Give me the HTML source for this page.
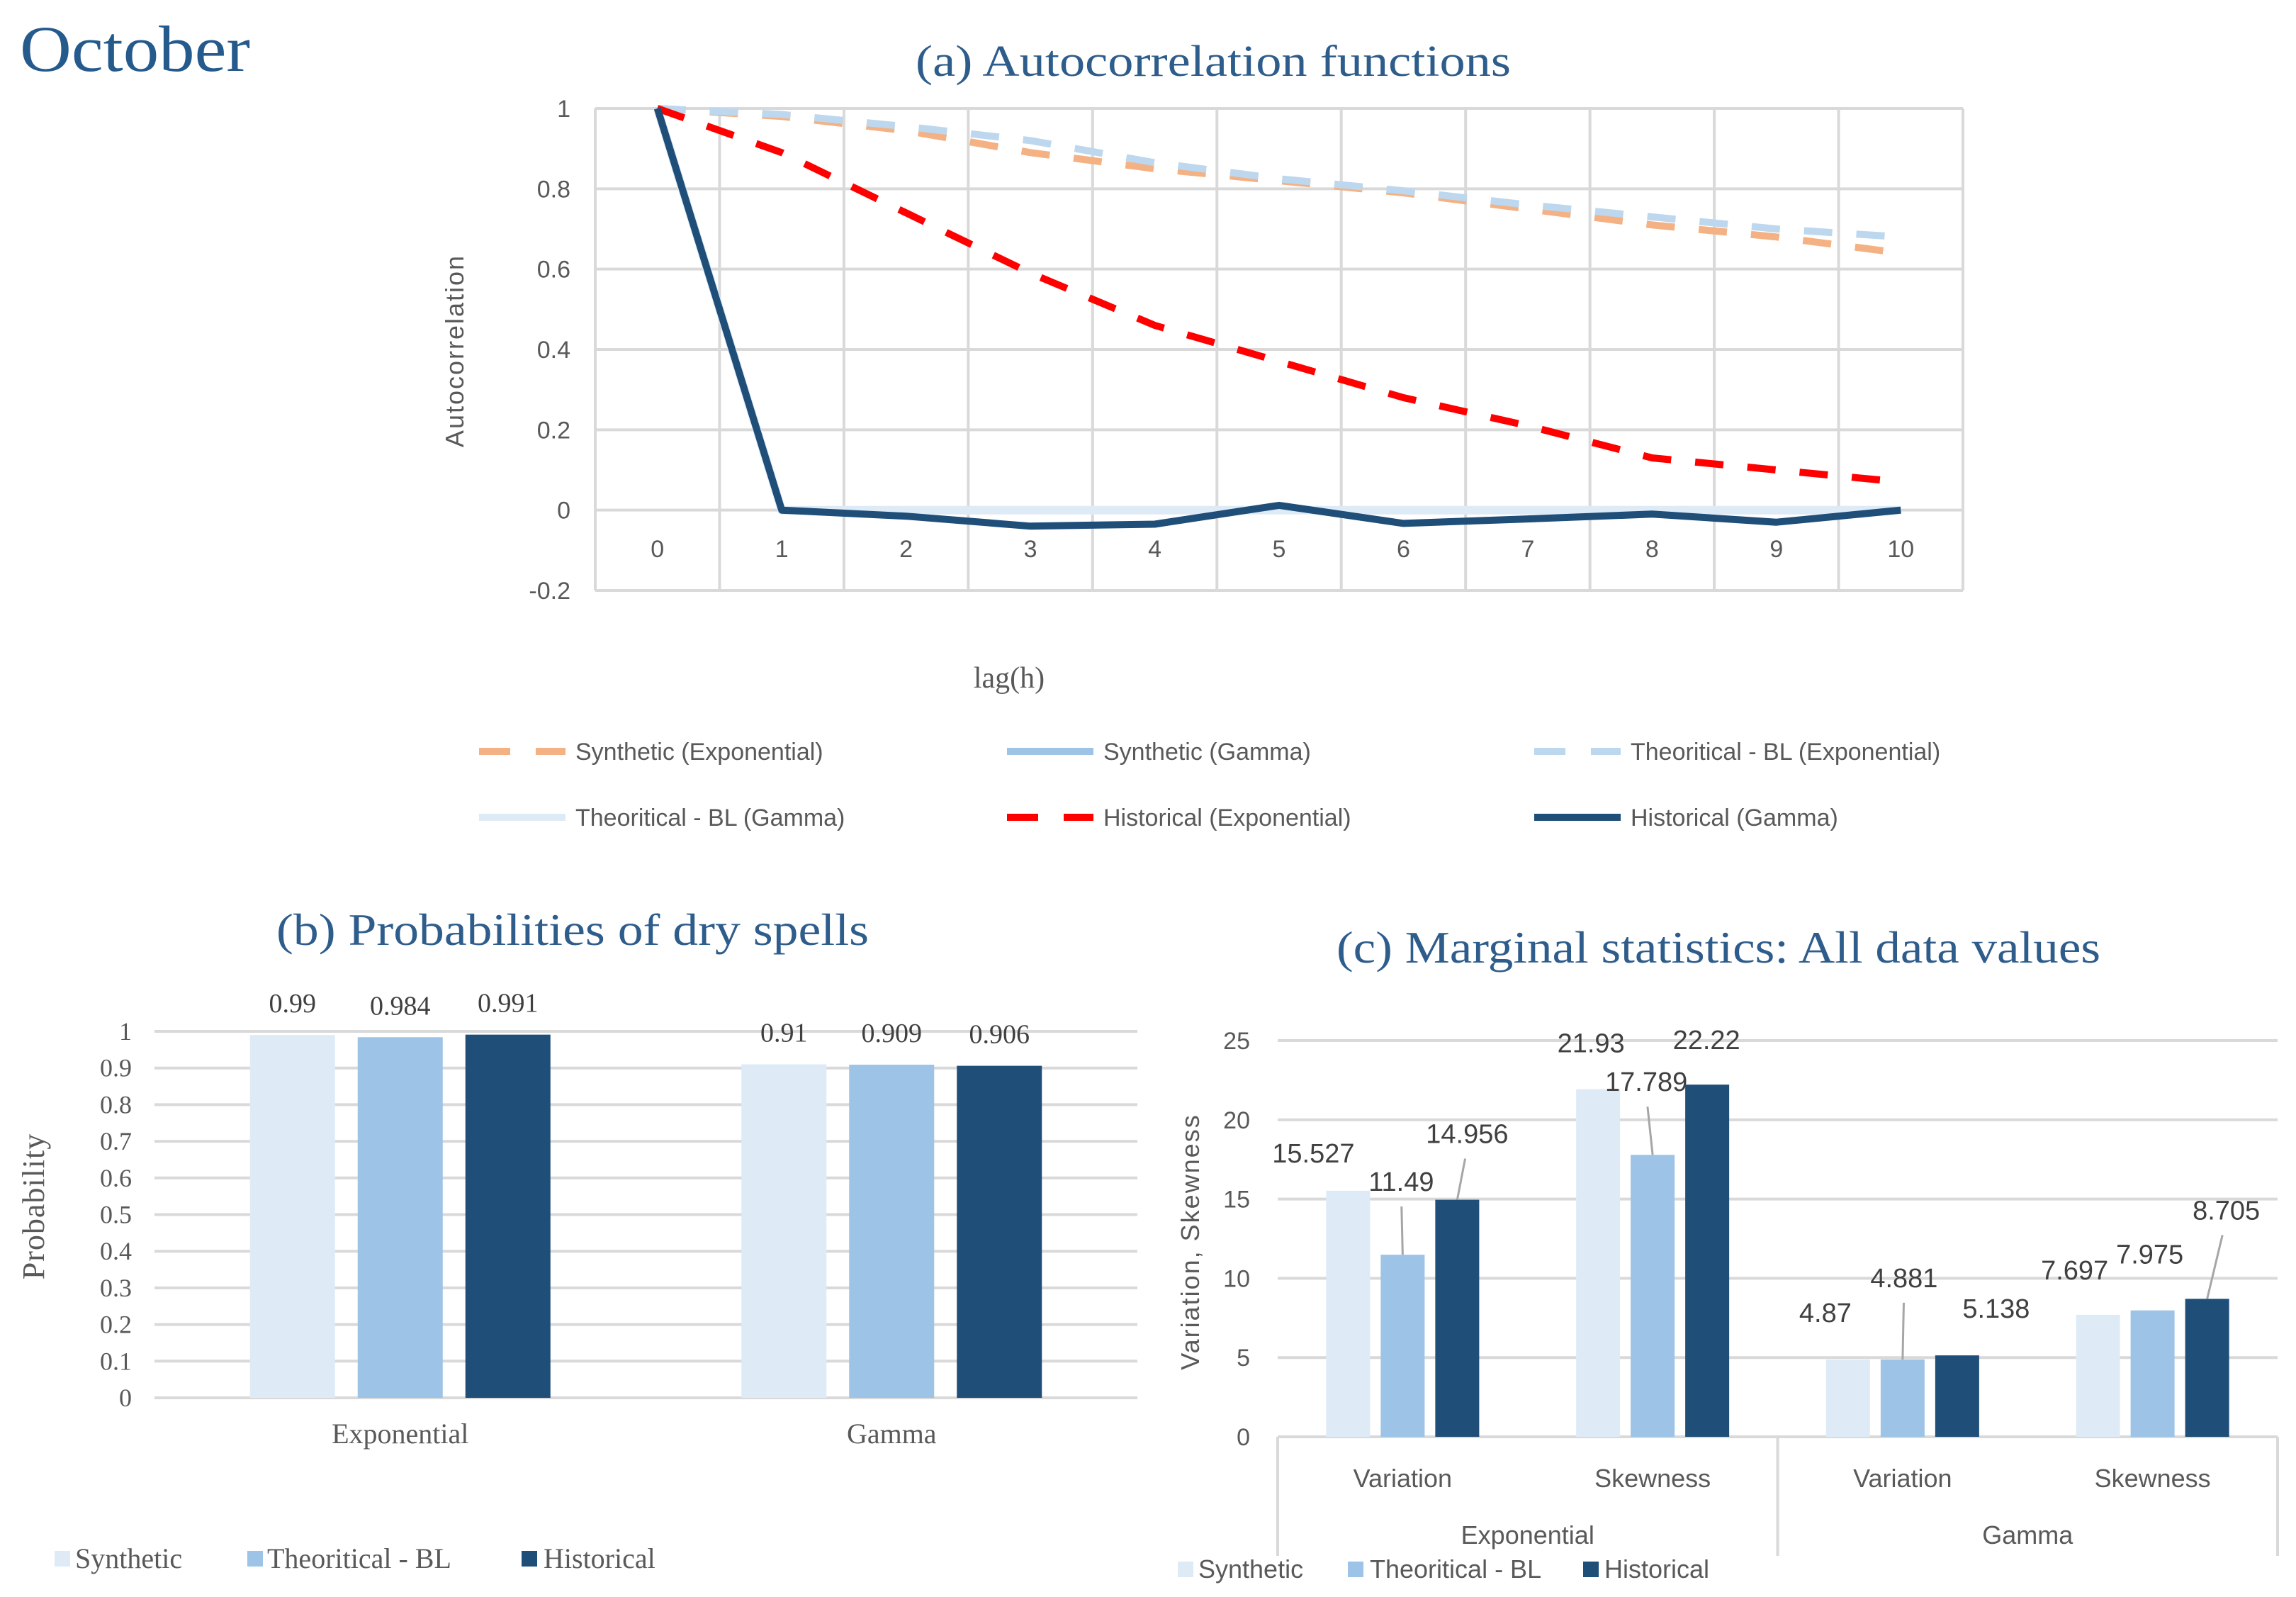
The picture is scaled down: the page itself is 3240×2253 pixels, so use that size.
<!DOCTYPE html>
<html><head><meta charset="utf-8"><style>
html,body{margin:0;padding:0;background:#fff;}
svg{display:block;}
.serif{font-family:"Liberation Serif",serif;}
.sans{font-family:"Liberation Sans",sans-serif;}
</style></head><body>
<svg id="fig" width="3240" height="2253" viewBox="0 0 3240 2253" xmlns="http://www.w3.org/2000/svg">
<rect width="3240" height="2253" fill="#fff"/>
<text class="serif" x="28" y="100" font-size="92" fill="#255a8c" textLength="325" lengthAdjust="spacingAndGlyphs">October</text>
<g id="ga"></g>
<g id="gb"></g>
<g id="gc"></g>
</svg>
<script>
// ---------- Chart (a) data ----------
const lags = [0,1,2,3,4,5,6,7,8,9,10];
const yTicksA = [1,0.8,0.6,0.4,0.2,0,-0.2];
const yTickLabelsA = ["1","0.8","0.6","0.4","0.2","0","-0.2"];
const synExp = [1,0.98,0.945,0.89,0.85,0.82,0.79,0.75,0.71,0.68,0.64];
const synGamma = [1,0,0,0,0,0,0,0,0,0,0];
const theoExp = [1,0.985,0.955,0.92,0.865,0.825,0.795,0.76,0.73,0.70,0.68];
const theoGamma = [1,0,0,0,0,0,0,0,0,0,0];
const histExp = [1,0.89,0.74,0.59,0.46,0.37,0.28,0.21,0.13,0.10,0.07];
const histGamma = [1,0,-0.015,-0.04,-0.035,0.012,-0.033,-0.022,-0.01,-0.03,0];
// ---------- Chart (b) data ----------
const catsB = ["Exponential","Gamma"];
const bSynthetic = [0.99,0.91];
const bTheoretical = [0.984,0.909];
const bHistorical = [0.991,0.906];
const yTicksB = [0,0.1,0.2,0.3,0.4,0.5,0.6,0.7,0.8,0.9,1];
const yTickLabelsB = ["0","0.1","0.2","0.3","0.4","0.5","0.6","0.7","0.8","0.9","1"];
// ---------- Chart (c) data ----------
const catsC = ["Variation","Skewness","Variation","Skewness"];
const groupsC = ["Exponential","Gamma"];
const cSynthetic = [15.527,21.93,4.87,7.697];
const cTheoretical = [11.49,17.789,4.881,7.975];
const cHistorical = [14.956,22.22,5.138,8.705];
const yTicksC = [0,5,10,15,20,25];
const yTickLabelsC = ["0","5","10","15","20","25"];

const NS="http://www.w3.org/2000/svg";
function mk(parent,tag,attrs,text){const e=document.createElementNS(NS,tag);for(const k in attrs)e.setAttribute(k,attrs[k]);if(text!==undefined)e.textContent=text;parent.appendChild(e);return e;}
const C_SYN="#deebf7",C_THEO="#9dc3e6",C_HIST="#1f4e79",GRID="#d9d9d9",TXT="#595959",TITLE="#2e5d8c";

// ================= Chart (a) =================
(function(){
const g=document.getElementById('ga');
const L=840,R=2770,T=153,B=833;
const yMin=-0.2,yMax=1;
const y=v=>B-(v-yMin)/(yMax-yMin)*(B-T);
const bw=(R-L)/lags.length;
const x=i=>L+bw*(i+0.5);
let t=mk(g,'text',{class:'serif',x:1712,y:107,'font-size':62,fill:TITLE,'text-anchor':'middle',textLength:840,lengthAdjust:'spacingAndGlyphs'},'(a) Autocorrelation functions');

yTicksA.forEach((v,i)=>{
 const l=mk(g,'line',{x1:L,x2:R,y1:y(v),y2:y(v),stroke:GRID,'stroke-width':4});
 
 const tx=mk(g,'text',{class:'sans',x:805,y:y(v)+12,'font-size':34,fill:TXT,'text-anchor':'end'},yTickLabelsA[i]);
 
});
for(let i=0;i<=lags.length;i++){
 const l=mk(g,'line',{x1:L+bw*i,x2:L+bw*i,y1:T,y2:B,stroke:GRID,'stroke-width':4});
 
}
lags.forEach((v,i)=>{
 const tx=mk(g,'text',{class:'sans',x:x(i),y:786,'font-size':34,fill:TXT,'text-anchor':'middle'},String(v));
 
});
t=mk(g,'text',{class:'sans',x:0,y:0,'font-size':36,fill:TXT,'text-anchor':'middle','letter-spacing':2,transform:'translate(654,495) rotate(-90)'},'Autocorrelation');

t=mk(g,'text',{class:'serif',x:1424,y:970,'font-size':42,fill:TXT,'text-anchor':'middle'},'lag(h)');

const series=[
 {d:synGamma,c:C_THEO,dash:null,w:10,n:'line-synthetic-gamma',lab:'Synthetic (Gamma)',lx:1421,ly:1060},
 {d:theoGamma,c:C_SYN,dash:null,w:12,n:'line-theoretical-gamma',lab:'Theoritical - BL (Gamma)',lx:676,ly:1153},
 {d:synExp,c:"#f4b183",dash:'40 34',w:10,n:'line-synthetic-exponential',lab:'Synthetic (Exponential)',lx:676,ly:1060},
 {d:theoExp,c:"#bdd7ee",dash:'40 34',w:10,n:'line-theoretical-exponential',lab:'Theoritical - BL (Exponential)',lx:2165,ly:1060},
 {d:histExp,c:"#ff0000",dash:'40 34',w:10,n:'line-historical-exponential',lab:'Historical (Exponential)',lx:1421,ly:1153},
 {d:histGamma,c:C_HIST,dash:null,w:10,n:'line-historical-gamma',lab:'Historical (Gamma)',lx:2165,ly:1153}
];
series.forEach(s=>{
 const pts=s.d.map((v,i)=>x(i).toFixed(1)+','+y(v).toFixed(1)).join(' ');
 const a={points:pts,fill:'none',stroke:s.c,'stroke-width':s.w,'stroke-linejoin':'round'};
 if(s.dash)a['stroke-dasharray']=s.dash;
 const p=mk(g,'polyline',a);
 
 const lg=mk(g,'g',{});
 
 const la={x1:s.lx,x2:s.lx+122,y1:s.ly,y2:s.ly,stroke:s.c,'stroke-width':10};
 if(s.dash)la['stroke-dasharray']='44 36';
 mk(lg,'line',la);
 mk(lg,'text',{class:'sans',x:s.lx+136,y:s.ly+12,'font-size':34,fill:TXT},s.lab);
});
})();

// ================= Chart (b) =================
(function(){
const g=document.getElementById('gb');
const L=218,R=1605,y0=1972,y1=1455;
const y=v=>y0-v*(y0-y1);
const cw=(R-L)/catsB.length;
const bwid=120,step=152;
let t=mk(g,'text',{class:'serif',x:808,y:1333,'font-size':64,fill:TITLE,'text-anchor':'middle',textLength:836,lengthAdjust:'spacingAndGlyphs'},'(b) Probabilities of dry spells');

yTicksB.forEach((v,i)=>{
 const l=mk(g,'line',{x1:L,x2:R,y1:y(v),y2:y(v),stroke:GRID,'stroke-width':4});
 
 const tx=mk(g,'text',{class:'serif',x:186,y:y(v)+12,'font-size':36,fill:TXT,'text-anchor':'end'},yTickLabelsB[i]);
 
});
const sets=[[bSynthetic,C_SYN,'synthetic'],[bTheoretical,C_THEO,'theoretical'],[bHistorical,C_HIST,'historical']];
catsB.forEach((c,ci)=>{
 const cx=L+cw*(ci+0.5);
 sets.forEach((s,si)=>{
  const bx=cx+(si-1)*step-bwid/2;
  const r=mk(g,'rect',{x:bx,y:y(s[0][ci]),width:bwid,height:y0-y(s[0][ci]),fill:s[1]});
  
  const tx=mk(g,'text',{class:'serif',x:bx+bwid/2,y:y(s[0][ci])-32,'font-size':38,fill:'#404040','text-anchor':'middle'},String(s[0][ci]));
  
 });
 const tx=mk(g,'text',{class:'serif',x:cx,y:2036,'font-size':40,fill:TXT,'text-anchor':'middle'},c);
 
});
t=mk(g,'text',{class:'serif',x:0,y:0,'font-size':44,fill:TXT,'text-anchor':'middle','letter-spacing':1,transform:'translate(62,1702) rotate(-90)'},'Probability');

const leg=[[77,106,C_SYN,'Synthetic'],[349,377,C_THEO,'Theoritical - BL'],[736,767,C_HIST,'Historical']];
leg.forEach(l=>{
 const lg=mk(g,'g',{});
 
 mk(lg,'rect',{x:l[0],y:2188,width:22,height:22,fill:l[2]});
 mk(lg,'text',{class:'serif',x:l[1],y:2212,'font-size':40,fill:TXT},l[3]);
});
})();

// ================= Chart (c) =================
(function(){
const g=document.getElementById('gc');
const L=1803,R=3214,y0=2027,per=22.36;
const y=v=>y0-v*per;
const cw=(R-L)/catsC.length;
const bwid=62,step=77;
let t=mk(g,'text',{class:'serif',x:2425,y:1358,'font-size':64,fill:TITLE,'text-anchor':'middle',textLength:1078,lengthAdjust:'spacingAndGlyphs'},'(c) Marginal statistics: All data values');

yTicksC.forEach((v,i)=>{
 const l=mk(g,'line',{x1:L,x2:R,y1:y(v),y2:y(v),stroke:GRID,'stroke-width':4});
 
 const tx=mk(g,'text',{class:'sans',x:1764,y:y(v)+12,'font-size':34,fill:TXT,'text-anchor':'end'},yTickLabelsC[i]);
 
});
const offs=[
 [[-49,-40,0],[-2,-90,1],[14,-80,1]],
 [[-10,-52,0],[-9,-90,1],[-1,-50,0]],
 [[-32,-53,0],[2,-102,1],[55,-53,0]],
 [[-33,-50,0],[-4,-66,0],[27,-112,1]]
];
const sets=[[cSynthetic,C_SYN,'synthetic'],[cTheoretical,C_THEO,'theoretical'],[cHistorical,C_HIST,'historical']];
catsC.forEach((c,ci)=>{
 const cx=L+cw*(ci+0.5);
 sets.forEach((s,si)=>{
  const v=s[0][ci];
  const bc=cx+(si-1)*step;
  const r=mk(g,'rect',{x:bc-bwid/2,y:y(v),width:bwid,height:y0-y(v),fill:s[1]});
  
  const o=offs[ci][si];
  const lx=bc+o[0],ly=y(v)+o[1];
  if(o[2]){
   const ln=mk(g,'line',{x1:bc,y1:y(v),x2:bc+o[0]*0.8,y2:ly+22,stroke:'#a6a6a6','stroke-width':3});
   
  }
  const tx=mk(g,'text',{class:'sans',x:lx,y:ly,'font-size':38,fill:'#404040','text-anchor':'middle'},String(v));
  
 });
 const tx=mk(g,'text',{class:'sans',x:cx,y:2098,'font-size':36,fill:TXT,'text-anchor':'middle'},c);
 
});
const gw=(R-L)/groupsC.length;
for(let i=0;i<=groupsC.length;i++){
 const l=mk(g,'line',{x1:L+gw*i,x2:L+gw*i,y1:y0,y2:2195,stroke:GRID,'stroke-width':4});
 
}
groupsC.forEach((gr,i)=>{
 const tx=mk(g,'text',{class:'sans',x:L+gw*(i+0.5),y:2178,'font-size':36,fill:TXT,'text-anchor':'middle'},gr);
 
});
t=mk(g,'text',{class:'sans',x:0,y:0,'font-size':36,fill:TXT,'text-anchor':'middle','letter-spacing':2,transform:'translate(1692,1752) rotate(-90)'},'Variation, Skewness');

const leg=[[1662,1691,C_SYN,'Synthetic'],[1902,1933,C_THEO,'Theoritical - BL'],[2234,2264,C_HIST,'Historical']];
leg.forEach(l=>{
 const lg=mk(g,'g',{});
 
 mk(lg,'rect',{x:l[0],y:2203,width:22,height:22,fill:l[2]});
 mk(lg,'text',{class:'sans',x:l[1],y:2226,'font-size':36,fill:TXT},l[3]);
});
})();
</script>
</body></html>
